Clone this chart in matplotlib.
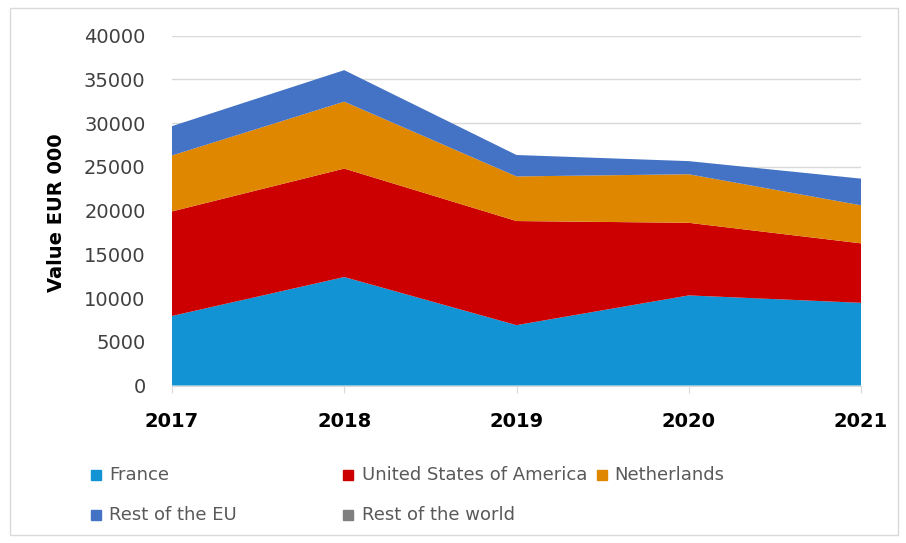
import matplotlib
matplotlib.use("Agg")
import matplotlib.pyplot as plt
from matplotlib.patches import Rectangle

years = [2017, 2018, 2019, 2020, 2021]
france = [7950, 12400, 6900, 10300, 9450]
usa = [11950, 12400, 11900, 8300, 6800]
netherlands = [6400, 7650, 5100, 5550, 4350]
rest_eu = [3350, 3600, 2450, 1500, 3050]
rest_world = [0, 0, 0, 0, 0]

labels = ["France", "United States of America", "Netherlands",
          "Rest of the EU", "Rest of the world"]
colors = ["#1293D4", "#CC0000", "#E08700", "#4472C4", "#7F7F7F"]

W, H = 906, 543
ax_left, ax_right, ax_top, ax_bottom = 172, 861, 35.6, 385.5
fig = plt.figure(figsize=(W / 100, H / 100), dpi=100)
ax = fig.add_axes([ax_left / W, 1 - ax_bottom / H,
                   (ax_right - ax_left) / W, (ax_bottom - ax_top) / H])

ax.stackplot(years, france, usa, netherlands, rest_eu, rest_world,
             colors=colors, linewidth=0, zorder=2)

ax.set_xlim(years[0], years[-1])
ax.set_ylim(0, 40000)
ax.set_yticks(range(0, 40001, 5000))
ax.set_xticks(years)
ax.grid(axis="y", color="#D9D9D9", linewidth=1, zorder=0)
for s in ["top", "right", "left"]:
    ax.spines[s].set_visible(False)
ax.spines["bottom"].set_color("#D9D9D9")
ax.spines["bottom"].set_zorder(3)

ax.tick_params(axis="y", length=0, pad=19, labelsize=14, labelcolor="#404040")
ax.tick_params(axis="x", length=5, color="#D9D9D9", pad=14, labelsize=14)
for t in ax.get_xticklabels():
    t.set_fontweight("bold")

ax.set_ylabel("Value EUR 000", fontsize=14, fontweight="bold")
ax.yaxis.set_label_coords((57 - ax_left) / (ax_right - ax_left), 0.495)
ax.yaxis.label.set_va("center")

# legend drawn by hand to mimic the row layout of the original
marker_x = [91, 343, 597, 91, 343]
text_x = [109, 362, 614, 109, 362]
row_y = [475, 475, 475, 515, 515]
for lab, col, mx, tx, ry in zip(labels, colors, marker_x, text_x, row_y):
    fig.patches.append(Rectangle((mx / W, 1 - (ry + 5) / H), 10 / W, 10 / H,
                                 transform=fig.transFigure, color=col,
                                 figure=fig))
    fig.text(tx / W, 1 - ry / H, lab, fontsize=13, color="#595959",
             va="center", ha="left")

# outer frame
fig.patches.append(Rectangle((10 / W, 8 / H), (898 - 10) / W, (535 - 8) / H,
                             transform=fig.transFigure, fill=False,
                             edgecolor="#D9D9D9", linewidth=1, figure=fig))

fig.savefig("out.png", dpi=100)
